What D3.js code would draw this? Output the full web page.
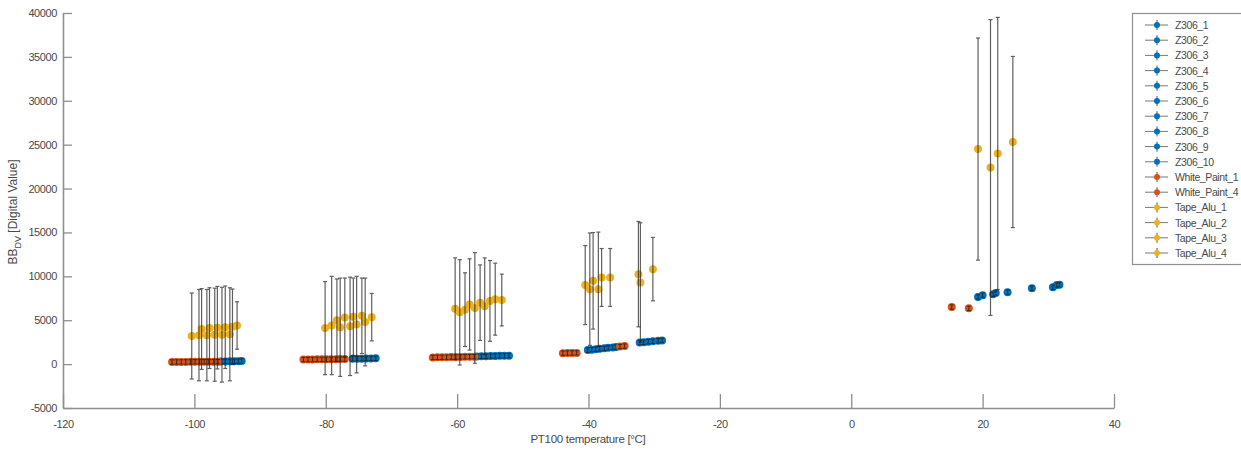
<!DOCTYPE html>
<html>
<head>
<meta charset="utf-8">
<script src="https://cdn.jsdelivr.net/npm/d3@7/dist/d3.min.js"></script>
<style>
  body { margin: 0; background: #fff; }
  svg text { font-family: "Liberation Sans", Arial, sans-serif; fill: #4a4a4a; }
</style>
</head>
<body>
<div id="chart"></div>
<script>
// ---- data ----
var seriesNames = ["Z306_1","Z306_2","Z306_3","Z306_4","Z306_5","Z306_6","Z306_7","Z306_8","Z306_9","Z306_10",
                   "White_Paint_1","White_Paint_4","Tape_Alu_1","Tape_Alu_2","Tape_Alu_3","Tape_Alu_4"];
var seriesGroup = ["z","z","z","z","z","z","z","z","z","z","w","w","t","t","t","t"];

var xTicks = [-120,-100,-80,-60,-40,-20,0,20,40];
var yTicks = [-5000,0,5000,10000,15000,20000,25000,30000,35000,40000];

// Z306 (blue)
var z306T = [-96.0,-95.3,-94.6,-93.9,-93.3,-92.8,
             -75.9,-75.2,-74.5,-73.8,-73.1,-72.4,
             -57.0,-56.3,-55.6,-54.9,-54.2,-53.5,-52.8,-52.1,
             -40.1,-39.5,-38.9,-38.3,-37.6,-37.0,-36.3,-35.8,
             -32.2,-31.6,-30.9,-30.2,-29.4,-28.8,
             19.3,20.0,21.6,22.0,23.8,27.5,30.7,31.3,31.7];
var z306V = [300,310,320,330,340,350,
             600,610,620,640,650,660,
             880,890,900,910,930,940,950,960,
             1600,1650,1700,1750,1800,1850,1900,1950,
             2450,2500,2550,2600,2650,2700,
             7650,7850,7950,8100,8200,8650,8750,9000,9050];
var z306E = [250,250,250,250,250,250,
             250,250,250,250,250,250,
             250,250,250,250,250,250,250,250,
             250,250,250,250,250,250,250,250,
             250,250,250,250,250,250,
             250,250,250,250,250,250,250,250,250];

// White paint (orange)
var whiteT = [-103.4,-102.7,-102.0,-101.3,-100.6,-99.9,-99.2,-98.5,-97.8,-97.1,-96.4,
              -83.4,-82.7,-82.0,-81.3,-80.6,-79.9,-79.2,-78.5,-77.8,-77.1,
              -63.7,-63.0,-62.3,-61.6,-60.9,-60.2,-59.5,-58.8,-58.1,-57.4,
              -43.9,-43.2,-42.5,-41.8,
              -35.2,-34.5,
              15.3,17.9];
var whiteV = [240,245,250,250,255,260,260,265,270,270,275,
              520,525,530,540,545,550,555,560,570,575,
              760,770,780,790,800,810,820,830,840,850,
              1250,1260,1270,1280,
              2000,2050,
              6500,6350];
var whiteE = [250,250,250,250,250,250,250,250,250,250,250,
              250,250,250,250,250,250,250,250,250,250,
              250,250,250,250,250,250,250,250,250,250,
              250,250,250,250,
              250,250,
              250,250];

// Tape alu (yellow)
var tapeT = [-100.4,-99.3,-98.9,-98.1,-97.7,-96.9,-96.5,-95.8,-95.3,-94.6,-94.2,-93.5,
             -80.1,-79.1,-78.3,-77.8,-77.1,-76.3,-75.8,-75.3,-74.5,-74.0,-73.0,
             -60.3,-59.6,-58.8,-58.1,-57.3,-56.5,-55.8,-55.0,-54.2,-53.2,
             -40.5,-39.8,-39.3,-38.5,-38.0,-36.7,-32.4,-32.1,-30.2,
             19.3,21.2,22.3,24.6];
var tapeV = [3200,3300,4000,3300,4100,3350,4150,3350,4200,3400,4250,4400,
             4100,4400,5000,4200,5300,4300,5400,4500,5500,4800,5350,
             6300,5900,6200,6800,6400,7000,6600,7200,7400,7300,
             9000,8540,9490,8540,9870,9870,10250,9300,10820,
             24500,22400,24000,25300];
var tapeE = [4900,5200,4600,5200,4600,5300,4700,5400,4700,5300,4300,2700,
             5300,5600,4700,5600,4500,5600,4400,5500,4300,5000,2700,
             5800,6000,4200,5200,6300,4300,5500,4600,4100,2950,
             4500,6400,5500,6500,3300,3300,6000,6800,3610,
             12650,16850,15500,9750];

var colors = { z: "#0072BD", w: "#D95319", t: "#EDB120" };

// ---- layout ----
var W = 1241, H = 461;
var svg = d3.select("#chart").append("svg")
  .attr("width", W).attr("height", H)
  .style("background", "#fff");

var x = d3.scaleLinear().domain([-120, 40]).range([63, 1114]);
var y = d3.scaleLinear().domain([-5000, 40000]).range([408, 13]);
var plain = function(d) { return String(d); };

// axes
var xAxis = svg.append("g")
  .attr("transform", "translate(0," + y(-5000) + ")")
  .call(d3.axisBottom(x).tickValues(xTicks).tickFormat(plain)
    .tickSizeInner(-14).tickSizeOuter(0).tickPadding(12));
var yAxis = svg.append("g")
  .attr("transform", "translate(" + x(-120) + ",0)")
  .call(d3.axisLeft(y).tickValues(yTicks).tickFormat(plain)
    .tickSizeInner(-9).tickSizeOuter(0).tickPadding(6));
[xAxis, yAxis].forEach(function(a) {
  a.attr("font-family", null);
  a.select(".domain").attr("stroke", "#8f8f8f").attr("stroke-width", 1.6);
  a.selectAll(".tick line").attr("stroke", "#8f8f8f").attr("stroke-width", 1.3);
  a.selectAll(".tick text").attr("font-size", 11).attr("fill", "#4a4a4a")
    .attr("letter-spacing", -0.4);
});

// axis labels
svg.append("text")
  .attr("x", 588).attr("y", 443)
  .attr("text-anchor", "middle").attr("font-size", 11.5).attr("letter-spacing", -0.3)
  .text("PT100 temperature [°C]");

var yl = svg.append("text")
  .attr("transform", "translate(17,212) rotate(-90)")
  .attr("text-anchor", "middle").attr("font-size", 12);
yl.append("tspan").text("BB");
yl.append("tspan").attr("dy", 4).attr("font-size", 9).text("DV");
yl.append("tspan").attr("dy", -4).text(" [Digital Value]");

// data marks
function toPts(T, V, E) {
  return T.map(function(t, i) { return { t: t, v: V[i], e: E[i] }; });
}
var groups = [
  { key: "z", pts: toPts(z306T, z306V, z306E) },
  { key: "w", pts: toPts(whiteT, whiteV, whiteE) },
  { key: "t", pts: toPts(tapeT, tapeV, tapeE) }
];

var plot = svg.append("g");
var cap = 2;
groups.forEach(function(g) {
  var gg = plot.append("g");
  gg.selectAll("circle").data(g.pts).enter().append("circle")
    .attr("cx", function(d) { return x(d.t); })
    .attr("cy", function(d) { return y(d.v); })
    .attr("r", 4)
    .attr("fill", colors[g.key]);
  var eb = gg.selectAll("g.eb").data(g.pts).enter().append("g")
    .attr("class", "eb")
    .attr("stroke", "#222").attr("stroke-width", g.key === "t" ? 1.2 : 1)
    .attr("opacity", g.key === "t" ? 0.72 : 0.85);
  eb.append("line")
    .attr("x1", function(d) { return x(d.t); }).attr("x2", function(d) { return x(d.t); })
    .attr("y1", function(d) { return y(d.v - d.e); }).attr("y2", function(d) { return y(d.v + d.e); });
  eb.append("line")
    .attr("x1", function(d) { return x(d.t) - cap; }).attr("x2", function(d) { return x(d.t) + cap; })
    .attr("y1", function(d) { return y(d.v + d.e); }).attr("y2", function(d) { return y(d.v + d.e); });
  eb.append("line")
    .attr("x1", function(d) { return x(d.t) - cap; }).attr("x2", function(d) { return x(d.t) + cap; })
    .attr("y1", function(d) { return y(d.v - d.e); }).attr("y2", function(d) { return y(d.v - d.e); });
});

// legend
var lg = svg.append("g").attr("transform", "translate(1132,13)");
lg.append("rect").attr("x", 0.5).attr("y", 0.5).attr("width", 115).attr("height", 251)
  .attr("fill", "#fff").attr("stroke", "#8f8f8f").attr("stroke-width", 1.2);
var items = lg.selectAll("g.item").data(seriesNames).enter().append("g")
  .attr("class", "item")
  .attr("transform", function(d, i) { return "translate(0," + (12 + i * 15.2) + ")"; });
items.append("line").attr("x1", 13).attr("x2", 36).attr("y1", 0).attr("y2", 0)
  .attr("stroke", "#777").attr("stroke-width", 1);
items.append("line").attr("x1", 25).attr("x2", 25).attr("y1", -5).attr("y2", 5)
  .attr("stroke", "#555").attr("stroke-width", 1);
items.append("circle").attr("cx", 25).attr("cy", 0).attr("r", 3)
  .attr("fill", function(d, i) { return colors[seriesGroup[i]]; });
items.append("text").attr("x", 43).attr("y", 4).attr("font-size", 10.5).attr("letter-spacing", -0.4)
  .text(function(d) { return d; });
</script>
</body>
</html>
